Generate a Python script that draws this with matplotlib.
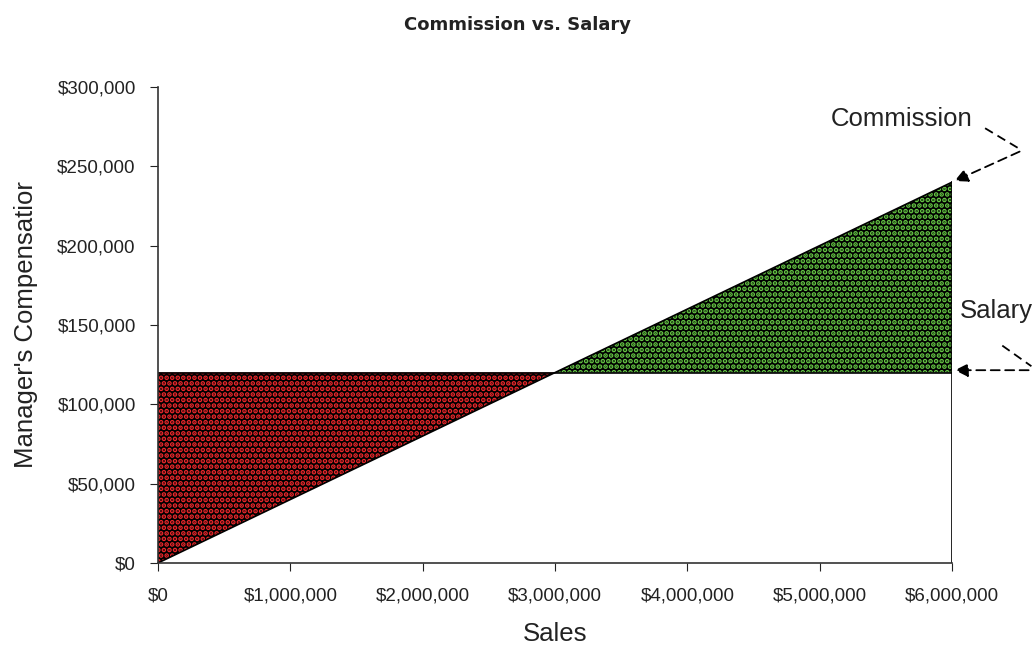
import matplotlib.pyplot as plt
from matplotlib.ticker import FuncFormatter
from matplotlib.lines import Line2D

# Sales levels and the two pay schemes
sales = [0, 3000000, 6000000]
salary = [120000, 120000, 120000]
commission = [0, 120000, 240000]

x_ticks = [0, 1000000, 2000000, 3000000, 4000000, 5000000, 6000000]
y_ticks = [0, 50000, 100000, 150000, 200000, 250000, 300000]

plt.rcParams['font.family'] = ['Liberation Sans', 'DejaVu Sans']
plt.rcParams['hatch.linewidth'] = 2.4

fig = plt.figure(figsize=(10.34, 6.51), dpi=100)
ax = fig.add_axes([0.1528, 0.1352, 0.7679, 0.7312])

# salary above commission -> red, commission above salary -> green
ax.fill_between(sales[:2], commission[:2], salary[:2], facecolor='black',
                edgecolor='#f0282c', hatch='...', linewidth=0)
ax.fill_between(sales[1:], salary[1:], commission[1:], facecolor='black',
                edgecolor='#66c845', hatch='...', linewidth=0)

ax.plot(sales, commission, color='black', lw=1.2)
ax.plot(sales, salary, color='black', lw=1.2)
ax.plot([sales[-1], sales[-1]], [0, commission[-1]], color='black', lw=1.2)

ax.set_xlim(0, 6000000)
ax.set_ylim(0, 300000)
ax.set_xticks(x_ticks)
ax.set_yticks(y_ticks)
ax.xaxis.set_major_formatter(FuncFormatter(lambda v, p: f"${v:,.0f}"))
ax.yaxis.set_major_formatter(FuncFormatter(lambda v, p: f"${v:,.0f}"))
ax.tick_params(direction='out', length=6, labelsize=13.5, colors='#222222')
ax.tick_params(axis='x', pad=12)
ax.tick_params(axis='y', pad=10)
ax.spines['top'].set_visible(False)
ax.spines['right'].set_visible(False)
for s in ['left', 'bottom']:
    ax.spines[s].set_linewidth(1.2)
    ax.spines[s].set_color('#333333')

ax.set_xlabel('Sales', fontsize=18.5, labelpad=12, color='#222222')
ax.set_ylabel("Manager's Compensatior", fontsize=18.5, labelpad=14, color='#222222')
fig.suptitle('Commission vs. Salary', fontsize=13, fontweight='bold', y=0.975,
             family='DejaVu Sans', color='#222222')

# callouts
dash = (0, (5, 3))
ax.text(5080000, 280000, 'Commission', fontsize=18.5, va='center', ha='left',
        color='#222222')
ax.add_line(Line2D([6250000, 6530000], [274000, 260000], color='black', lw=1.3,
                   ls=dash, clip_on=False))
ax.annotate('', xy=(6000000, 240000), xytext=(6530000, 260000),
            arrowprops=dict(arrowstyle='-|>', color='black', lw=1.3,
                            ls=dash, mutation_scale=20),
            annotation_clip=False)

ax.text(6060000, 159000, 'Salary', fontsize=18.5, va='center', ha='left',
        color='#222222')
ax.add_line(Line2D([6380000, 6600000], [137000, 124000], color='black', lw=1.3,
                   ls=dash, clip_on=False))
ax.annotate('', xy=(6000000, 121500), xytext=(6600000, 121500),
            arrowprops=dict(arrowstyle='-|>', color='black', lw=1.3,
                            ls=dash, mutation_scale=20),
            annotation_clip=False)

fig.savefig('out.png', dpi=100)
